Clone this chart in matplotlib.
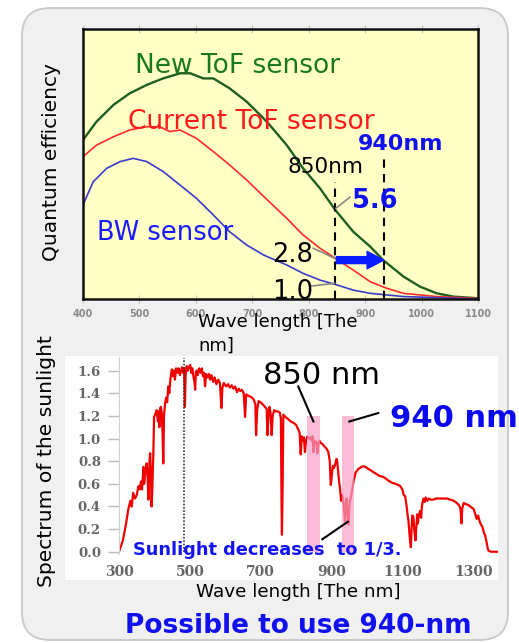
import matplotlib
matplotlib.use("Agg")
import matplotlib.pyplot as plt
from matplotlib.patches import FancyBboxPatch, Rectangle
from matplotlib.transforms import IdentityTransform

# ---------------- data ----------------
# Top chart: quantum efficiency (relative units)
qe_ticks = [400, 500, 600, 700, 800, 900, 1000, 1100]
new_tof_nm = [400, 424, 454, 483, 513, 542, 572, 590, 613, 631, 660, 690, 720, 731, 761, 790, 820, 847, 879, 909, 932, 968, 997, 1027, 1056, 1098, 1100]
new_tof_qe = [0.589, 0.657, 0.719, 0.762, 0.793, 0.817, 0.836, 0.836, 0.817, 0.817, 0.78, 0.731, 0.669, 0.644, 0.57, 0.484, 0.41, 0.33, 0.249, 0.194, 0.144, 0.083, 0.046, 0.021, 0.009, 0.003, 0.003]
cur_tof_nm = [400, 424, 454, 483, 513, 536, 554, 572, 601, 631, 660, 690, 720, 761, 790, 820, 847, 879, 909, 938, 968, 1027, 1100]
cur_tof_qe = [0.527, 0.57, 0.601, 0.626, 0.638, 0.638, 0.62, 0.626, 0.595, 0.546, 0.496, 0.441, 0.38, 0.299, 0.237, 0.188, 0.151, 0.107, 0.064, 0.04, 0.021, 0.009, 0.002]
bw_nm = [400, 418, 442, 466, 489, 513, 542, 572, 601, 631, 660, 690, 720, 761, 790, 820, 847, 879, 909, 968, 1100]
bw_qe = [0.348, 0.434, 0.484, 0.509, 0.521, 0.509, 0.472, 0.422, 0.373, 0.311, 0.249, 0.2, 0.163, 0.126, 0.095, 0.07, 0.054, 0.033, 0.021, 0.009, 0.0]
mark_850 = 846
mark_940 = 933

# Bottom chart: solar spectrum (wavelength nm, irradiance)
sun_points = [
    (300, 0.00), (311, 0.10), (320, 0.25), (326, 0.37), (332, 0.45), (336, 0.40), (340, 0.52), (345, 0.47),
    (350, 0.50), (355, 0.58), (359, 0.55), (362, 0.62), (365, 0.55), (369, 0.75), (371, 0.60), (374, 0.70),
    (378, 0.78), (381, 0.65), (383, 0.46), (386, 0.80), (388, 0.87), (390, 0.70), (392, 0.40), (394, 0.55),
    (397, 0.87), (399, 1.19), (403, 1.22), (406, 1.25), (410, 1.15), (412, 1.24), (414, 1.10), (416, 1.26),
    (418, 1.28), (421, 1.22), (423, 1.05), (425, 0.78), (427, 1.20), (430, 1.31), (433, 1.36), (436, 1.32),
    (439, 1.46), (442, 1.40), (445, 1.52), (449, 1.61), (452, 1.55), (455, 1.60), (458, 1.52), (461, 1.62),
    (465, 1.58), (468, 1.62), (472, 1.56), (475, 1.60), (478, 1.63), (481, 1.58), (484, 1.62), (486, 1.28),
    (488, 1.55), (491, 1.64), (494, 1.60), (497, 1.63), (501, 1.65), (504, 1.58), (507, 1.62), (510, 1.55),
    (513, 1.50), (515, 1.43), (517, 1.58), (519, 1.60), (522, 1.56), (526, 1.62), (530, 1.58), (534, 1.62),
    (537, 1.55), (540, 1.58), (543, 1.46), (546, 1.57), (550, 1.54), (554, 1.57), (557, 1.52), (561, 1.56),
    (566, 1.50), (570, 1.54), (575, 1.48), (580, 1.52), (585, 1.49), (589, 1.27), (592, 1.45), (596, 1.49),
    (603, 1.46), (608, 1.48), (613, 1.45), (618, 1.47), (623, 1.44), (628, 1.46), (633, 1.41), (638, 1.44),
    (642, 1.42), (647, 1.43), (652, 1.40), (656, 1.19), (659, 1.39), (664, 1.38), (670, 1.37), (676, 1.36),
    (681, 1.34), (685, 1.30), (687, 1.03), (690, 1.25), (694, 1.33), (700, 1.32), (706, 1.30), (712, 1.28),
    (717, 1.26), (719, 1.03), (722, 1.20), (725, 1.28), (728, 1.22), (731, 1.03), (734, 1.20), (738, 1.25),
    (742, 1.24), (748, 1.24), (754, 1.23), (757, 1.18), (759, 0.40), (760, 0.15), (762, 0.60), (764, 1.21),
    (770, 1.19), (778, 1.17), (785, 1.15), (792, 1.14), (800, 1.12), (806, 1.08), (810, 1.05), (813, 0.86),
    (816, 1.02), (819, 0.98), (822, 1.01), (825, 0.88), (828, 0.98), (832, 1.02), (836, 1.00), (840, 1.01),
    (844, 0.98), (847, 1.02), (849, 0.88), (852, 0.98), (855, 0.96), (858, 0.97), (860, 0.87), (863, 0.95),
    (866, 0.98), (870, 0.96), (875, 0.95), (880, 0.93), (886, 0.91), (891, 0.88), (895, 0.80), (898, 0.59),
    (901, 0.68), (904, 0.76), (907, 0.74), (911, 0.78), (914, 0.82), (916, 0.80), (919, 0.70), (922, 0.60),
    (924, 0.56), (927, 0.45), (930, 0.50), (932, 0.47), (934, 0.42), (936, 0.35), (938, 0.27), (940, 0.40),
    (942, 0.47), (944, 0.38), (946, 0.30), (948, 0.24), (950, 0.38), (952, 0.45), (954, 0.47), (957, 0.52),
    (960, 0.58), (962, 0.62), (965, 0.66), (968, 0.70), (971, 0.71), (975, 0.73), (980, 0.74), (985, 0.75),
    (990, 0.755), (995, 0.75), (1005, 0.73), (1015, 0.71), (1025, 0.69), (1035, 0.67), (1047, 0.66), (1060, 0.63),
    (1070, 0.61), (1080, 0.60), (1088, 0.59), (1094, 0.58), (1100, 0.55), (1104, 0.50), (1108, 0.49), (1112, 0.40),
    (1115, 0.32), (1117, 0.28), (1119, 0.20), (1121, 0.12), (1124, 0.04), (1126, 0.20), (1128, 0.32), (1131, 0.31),
    (1134, 0.18), (1137, 0.10), (1139, 0.20), (1142, 0.33), (1144, 0.25), (1146, 0.31), (1150, 0.36), (1153, 0.30),
    (1155, 0.40), (1158, 0.45), (1160, 0.47), (1163, 0.44), (1166, 0.48), (1170, 0.45), (1175, 0.47), (1180, 0.46),
    (1188, 0.46), (1195, 0.47), (1205, 0.47), (1215, 0.47), (1226, 0.47), (1235, 0.46), (1245, 0.45), (1254, 0.43),
    (1260, 0.41), (1264, 0.38), (1267, 0.25), (1269, 0.38), (1273, 0.43), (1280, 0.42), (1288, 0.41), (1295, 0.39),
    (1301, 0.38), (1306, 0.33), (1310, 0.29), (1314, 0.32), (1318, 0.27), (1322, 0.24), (1326, 0.22), (1330, 0.17),
    (1334, 0.14), (1338, 0.08), (1341, 0.03), (1343, 0.01), (1350, 0.0), (1371, 0.0),
]
sun_nm = [p[0] for p in sun_points]
sun_val = [p[1] for p in sun_points]
sun_xticks = [300, 500, 700, 900, 1100, 1300]
sun_yticks = [0.0, 0.2, 0.4, 0.6, 0.8, 1.0, 1.2, 1.4, 1.6]
band_850 = (831, 868)
band_940 = (930, 964)
band_top = 1.2
fraunhofer_nm = 484

# ---------------- figure ----------------
W, H = 519, 643
fig = plt.figure(figsize=(W / 100, H / 100), dpi=100)
fig.patch.set_facecolor("white")

def fx(x):
    return x / W

def fy(y):
    return 1 - y / H

# grey rounded panel
panel = FancyBboxPatch((22, H - 640), 486, 632,
                       boxstyle="round,pad=0,rounding_size=28",
                       transform=IdentityTransform(), fc="#f0f0f0", ec="#c8c8c8", lw=1.3, zorder=-3)
fig.patches.append(panel)
# white area behind lower chart
white = Rectangle((65, H - 580), 433, 224, transform=IdentityTransform(), fc="white", ec="none", zorder=-2)
fig.patches.append(white)

# ---------------- top chart ----------------
ax1 = fig.add_axes([fx(83), fy(299), 395 / W, 270 / H])
ax1.set_facecolor("#ffffc6")
ax1.set_xlim(400, 1100)
ax1.set_ylim(0, 1)
ax1.plot(new_tof_nm, new_tof_qe, color="#1f5f1f", lw=1.7)
ax1.plot(cur_tof_nm, cur_tof_qe, color="#ff2a2a", lw=1.2)
ax1.plot(bw_nm, bw_qe, color="#3a3acc", lw=1.2)
for s in ax1.spines.values():
    s.set_color("#111111")
    s.set_linewidth(1.8)
ax1.set_xticks(qe_ticks)
ax1.set_xticklabels([str(t) for t in qe_ticks], fontsize=7, fontweight="bold", color="#8a8a8a")
ax1.set_yticks([])
ax1.tick_params(axis="x", direction="inout", length=6, color="#c0c0c0", top=True, pad=4)

# dashed markers
ax1.plot([mark_850, mark_850], [0, 0.433], color="black", lw=1.5, ls=(0, (4, 3)))
ax1.plot([mark_940, mark_940], [0, 0.526], color="black", lw=1.5, ls=(0, (4, 3)))
# arrow
ax1.annotate("", xy=(mark_940, 0.144), xytext=(mark_850 + 3, 0.144),
             arrowprops=dict(arrowstyle="simple,head_width=1.25,head_length=1.2,tail_width=0.5",
                             color="#0a1eff", shrinkA=0, shrinkB=0))
# leader lines
ax1.plot([873, 848], [0.377, 0.336], color="#888888", lw=1.2)
ax1.plot([808, 846], [0.188, 0.151], color="#888888", lw=1.2)
ax1.plot([805, 846], [0.048, 0.058], color="#888888", lw=1.2)

fig.text(fx(135), fy(73.3), "New ToF sensor", fontsize=19, color="#1a7a1a", va="baseline")
fig.text(fx(128), fy(129), "Current ToF sensor", fontsize=19, color="#ff1a1a", va="baseline")
fig.text(fx(97), fy(239.5), "BW sensor", fontsize=18.5, color="#1a1aff", va="baseline")
fig.text(fx(358), fy(150), "940nm", fontsize=16, color="#1010f0", fontweight="bold", va="baseline")
fig.text(fx(288), fy(173), "850nm", fontsize=15.6, color="black", va="baseline")
fig.text(fx(352), fy(208), "5.6", fontsize=18.5, color="#1010f0", fontweight="bold", va="baseline")
fig.text(fx(272), fy(261.7), "2.8", fontsize=18.5, color="black", va="baseline")
fig.text(fx(272), fy(299), "1.0", fontsize=18.5, color="black", va="baseline")
fig.text(fx(52), fy(162), "Quantum efficiency", fontsize=14.5, rotation=90, ha="center", va="center", color="black")
fig.text(fx(198), fy(327.3), "Wave length [The", fontsize=13.1, color="black", va="baseline")
fig.text(fx(198), fy(350.7), "nm]", fontsize=13.1, color="black", va="baseline")

# ---------------- bottom chart ----------------
ax2 = fig.add_axes([fx(119), fy(554), 379 / W, 197 / H])
ax2.set_facecolor("none")
ax2.set_xlim(300, 1370)
ax2.set_ylim(-0.02, 1.72)
ax2.plot(sun_nm, sun_val, color="#f00000", lw=1.6, zorder=2)
ax2.plot([fraunhofer_nm, fraunhofer_nm], [0, 1.71], color="#333333", lw=1.2, ls=(0, (1, 1)), zorder=3)
for b in (band_850, band_940):
    ax2.add_patch(Rectangle((b[0], 0), b[1] - b[0], band_top, fc="#f8a0c6", ec="none", alpha=0.7, zorder=4))
for k, s in ax2.spines.items():
    if k == "left":
        s.set_color("#d0d0d0")
        s.set_linewidth(0.8)
    else:
        s.set_visible(False)
ax2.set_xticks(sun_xticks)
ax2.set_xticklabels([str(t) for t in sun_xticks], fontsize=10, fontweight="bold",
                    family="DejaVu Serif", color="#666666")
ax2.set_yticks(sun_yticks)
ax2.set_yticklabels(["%.1f" % t for t in sun_yticks], fontsize=9.5, fontweight="bold",
                    family="DejaVu Serif", color="#666666")
ax2.tick_params(axis="x", length=0, pad=8)
ax2.tick_params(axis="y", length=8, color="#bbbbbb", width=1, pad=5)

# leaders
ax2.plot([806, 849], [1.46, 1.15], color="black", lw=1.5, zorder=5)
ax2.plot([1032, 950], [1.225, 1.15], color="black", lw=1.5, zorder=5)
ax2.plot([874, 946], [0.11, 0.265], color="black", lw=1.5, zorder=5)

fig.text(fx(263), fy(384), "850 nm", fontsize=22, color="black", va="baseline")
fig.text(fx(390), fy(427.3), "940 nm", fontsize=22, color="#0a0af0", fontweight="bold", va="baseline")
fig.text(fx(133), fy(555), "Sunlight decreases  to 1/3.", fontsize=12.8, color="#1414f0",
         fontweight="bold", va="baseline")
fig.text(fx(47), fy(461), "Spectrum of the sunlight", fontsize=14.6, rotation=90, ha="center", va="center", color="black")
fig.text(fx(196), fy(596.7), "Wave length [The nm]", fontsize=13.2, color="black", va="baseline")
fig.text(fx(125), fy(633.3), "Possible to use 940-nm", fontsize=19, color="#1010f0", fontweight="bold", va="baseline")

fig.savefig("out.png", dpi=100)
